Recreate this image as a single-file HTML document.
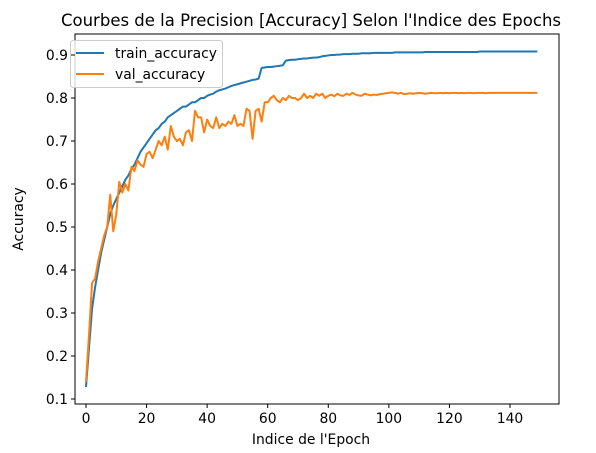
<!DOCTYPE html>
<html><head><meta charset="utf-8"><style>
html,body{margin:0;padding:0;background:#fff;}
svg{display:block;font-family:"DejaVu Sans","Liberation Sans",sans-serif;}
</style></head><body>
<svg id="chart" width="596" height="453" viewBox="0 0 596 453">
<rect x="0" y="0" width="596" height="453" fill="#fff"/>
<text x="311" y="26" font-size="16.5" text-anchor="middle" fill="#000">Courbes de la Precision [Accuracy] Selon l'Indice des Epochs</text>
<g id="plot"></g>
<rect x="75" y="34" width="484" height="370" fill="none" stroke="#000" stroke-width="1"/>
<text x="311" y="444" font-size="13.9" text-anchor="middle">Indice de l'Epoch</text>
<text transform="translate(23,219) rotate(-90)" font-size="13.9" text-anchor="middle">Accuracy</text>
<g>
<rect x="70.5" y="40.5" width="152" height="47" rx="3" fill="#fff" fill-opacity="0.8" stroke="#ccc"/>
<line x1="76" y1="53" x2="104" y2="53" stroke="#1f77b4" stroke-width="2"/>
<text x="115" y="58" font-size="13.9">train_accuracy</text>
<line x1="76" y1="74" x2="104" y2="74" stroke="#ff7f0e" stroke-width="2"/>
<text x="115" y="79" font-size="13.9">val_accuracy</text>
</g>
</svg>
<script>
const xTicks=[0,20,40,60,80,100,120,140];
const yTicks=[0.1,0.2,0.3,0.4,0.5,0.6,0.7,0.8,0.9];
const yTickLabels=["0.1","0.2","0.3","0.4","0.5","0.6","0.7","0.8","0.9"];
const trainAcc=[0.128,0.22,0.31,0.36,0.40,0.44,0.47,0.50,0.53,0.55,0.565,0.58,0.595,0.61,0.62,0.635,0.645,0.66,0.675,0.685,
0.695,0.705,0.715,0.725,0.73,0.74,0.745,0.755,0.76,0.765,0.77,0.775,0.78,0.78,0.785,0.79,0.79,0.795,0.80,0.80,
0.805,0.808,0.81,0.815,0.818,0.82,0.822,0.825,0.828,0.83,0.832,0.834,0.836,0.838,0.84,0.842,0.843,0.845,0.87,0.871,
0.872,0.872,0.873,0.874,0.875,0.876,0.887,0.888,0.889,0.889,0.89,0.891,0.892,0.892,0.893,0.894,0.894,0.895,0.897,0.898,
0.899,0.9,0.9,0.901,0.901,0.902,0.902,0.902,0.903,0.903,0.903,0.904,0.904,0.904,0.904,0.905,0.905,0.905,0.905,0.905,
0.905,0.905,0.906,0.906,0.906,0.906,0.906,0.906,0.906,0.906,0.906,0.906,0.907,0.907,0.907,0.907,0.907,0.907,0.907,0.907,
0.907,0.907,0.907,0.907,0.907,0.907,0.907,0.907,0.907,0.907,0.908,0.908,0.908,0.908,0.908,0.908,0.908,0.908,0.908,0.908,
0.908,0.908,0.908,0.908,0.908,0.908,0.908,0.908,0.908,0.908];
const valAcc=[0.14,0.25,0.37,0.38,0.42,0.45,0.48,0.50,0.575,0.49,0.53,0.605,0.58,0.60,0.585,0.64,0.63,0.655,0.645,0.64,
0.67,0.675,0.66,0.68,0.70,0.69,0.71,0.68,0.735,0.71,0.70,0.705,0.69,0.72,0.725,0.70,0.77,0.755,0.755,0.72,
0.75,0.735,0.73,0.755,0.73,0.74,0.735,0.745,0.74,0.76,0.735,0.74,0.735,0.775,0.77,0.705,0.77,0.775,0.745,0.79,
0.79,0.80,0.805,0.795,0.79,0.80,0.795,0.805,0.80,0.80,0.795,0.80,0.81,0.80,0.805,0.80,0.81,0.805,0.81,0.80,
0.805,0.808,0.804,0.81,0.806,0.805,0.81,0.807,0.812,0.808,0.806,0.805,0.81,0.808,0.806,0.808,0.807,0.809,0.81,0.811,
0.812,0.813,0.812,0.81,0.812,0.809,0.81,0.811,0.81,0.811,0.812,0.811,0.81,0.811,0.812,0.811,0.811,0.812,0.811,0.812,
0.811,0.812,0.812,0.811,0.812,0.811,0.812,0.812,0.811,0.812,0.812,0.812,0.811,0.812,0.812,0.812,0.812,0.812,0.812,0.812,
0.812,0.812,0.812,0.812,0.812,0.812,0.812,0.812,0.812,0.812];
const NS='http://www.w3.org/2000/svg';
function xs(v){return 86+v*(510-86)/140;}
function ys(v){return 399-(v-0.1)*(344/0.8);}
const svg=document.getElementById('chart');
const plot=document.getElementById('plot');
xTicks.forEach(t=>{
  const l=document.createElementNS(NS,'line');
  l.setAttribute('x1',xs(t));l.setAttribute('x2',xs(t));l.setAttribute('y1',404);l.setAttribute('y2',408);l.setAttribute('stroke','#000');
  
  
  svg.appendChild(l);
  const tx=document.createElementNS(NS,'text');
  tx.setAttribute('x',xs(t));tx.setAttribute('y',423);tx.setAttribute('font-size','13.9');tx.setAttribute('text-anchor','middle');
  tx.textContent=String(t);
  
  
  svg.appendChild(tx);
});
yTicks.forEach((t,i)=>{
  const l=document.createElementNS(NS,'line');
  l.setAttribute('x1',71);l.setAttribute('x2',75);l.setAttribute('y1',ys(t));l.setAttribute('y2',ys(t));l.setAttribute('stroke','#000');
  
  
  svg.appendChild(l);
  const tx=document.createElementNS(NS,'text');
  tx.setAttribute('x',68);tx.setAttribute('y',ys(t)+5);tx.setAttribute('font-size','13.9');tx.setAttribute('text-anchor','end');
  tx.textContent=yTickLabels[i];
  
  
  svg.appendChild(tx);
});
function line(arr,color,name){
  const p=document.createElementNS(NS,'polyline');
  p.setAttribute('points',arr.map((v,i)=>xs(i).toFixed(2)+','+ys(v).toFixed(2)).join(' '));
  p.setAttribute('fill','none');p.setAttribute('stroke',color);p.setAttribute('stroke-width','2');p.setAttribute('stroke-linejoin','round');
  
  
  plot.appendChild(p);
}
line(trainAcc,'#1f77b4','train-accuracy-line');
line(valAcc,'#ff7f0e','val-accuracy-line');
</script>
</body></html>
